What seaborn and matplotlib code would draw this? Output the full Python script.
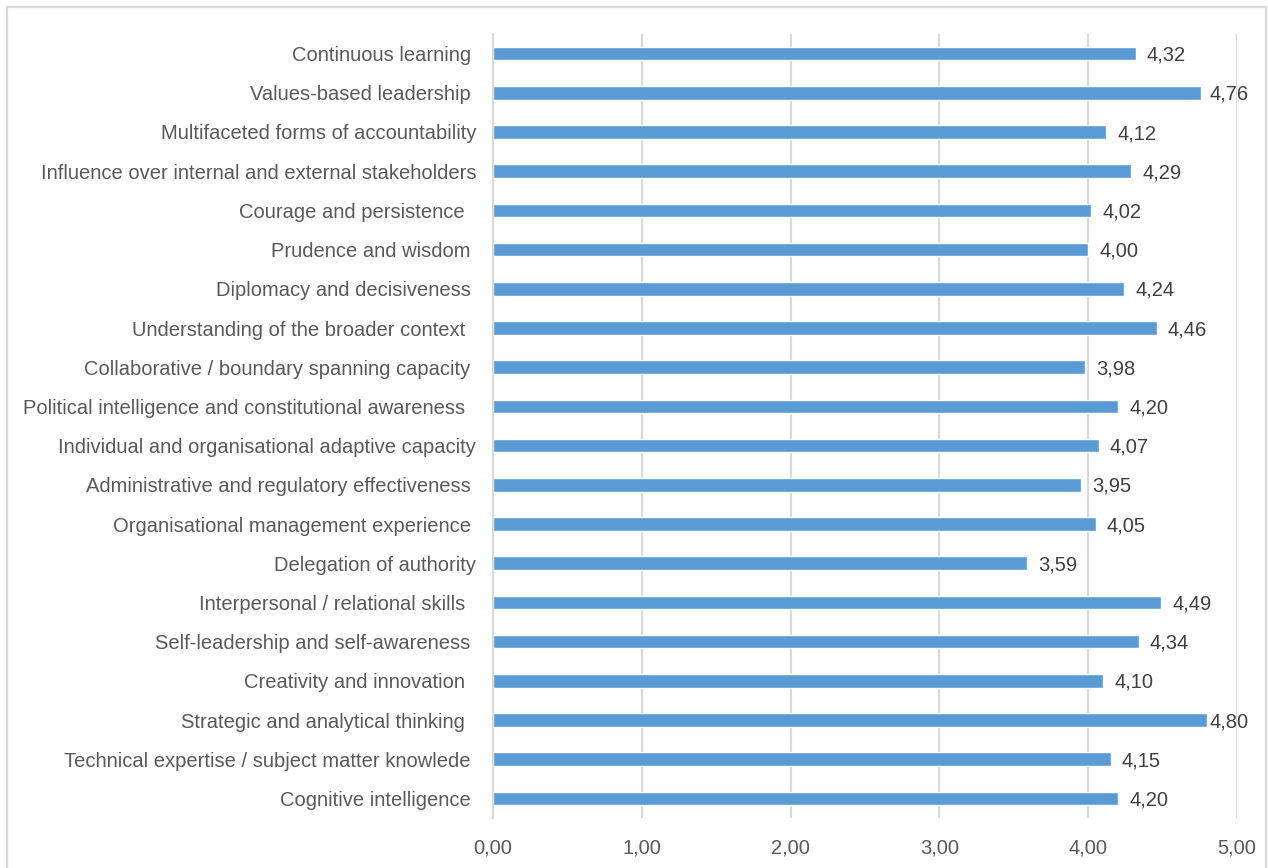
import matplotlib
matplotlib.use("Agg")
import matplotlib.pyplot as plt
from matplotlib.patches import Rectangle
import seaborn as sns
import pandas as pd

competencies = [
    "Continuous learning ",
    "Values-based leadership ",
    "Multifaceted forms of accountability",
    "Influence over internal and external stakeholders",
    "Courage and persistence  ",
    "Prudence and wisdom ",
    "Diplomacy and decisiveness ",
    "Understanding of the broader context  ",
    "Collaborative / boundary spanning capacity ",
    "Political intelligence and constitutional awareness  ",
    "Individual and organisational adaptive capacity",
    "Administrative and regulatory effectiveness ",
    "Organisational management experience ",
    "Delegation of authority",
    "Interpersonal / relational skills  ",
    "Self-leadership and self-awareness ",
    "Creativity and innovation  ",
    "Strategic and analytical thinking  ",
    "Technical expertise / subject matter knowlede ",
    "Cognitive intelligence ",
]
scores = [4.32, 4.76, 4.12, 4.29, 4.02, 4.00, 4.24, 4.46, 3.98, 4.20,
          4.07, 3.95, 4.05, 3.59, 4.49, 4.34, 4.10, 4.80, 4.15, 4.20]
x_ticks = [0, 1, 2, 3, 4, 5]

df = pd.DataFrame({"competency": competencies, "score": scores})

sns.set_theme(style="white")
plt.rcParams["font.family"] = ["Liberation Sans", "DejaVu Sans"]

W, H = 1268, 868
fig = plt.figure(figsize=(W / 100, H / 100), dpi=100)
ax = fig.add_axes([493 / W, 1 - 818 / H, (1237 - 493) / W, (818 - 34) / H])

text_color = "#595959"
grid_color = "#d9d9d9"
fs = 14.5

sns.barplot(data=df, y="competency", x="score", orient="h",
            color="#5B9BD5", saturation=1, width=0.345, ax=ax)

ax.set_xlim(0, 5)
ax.set_ylim(len(competencies) - 0.5, -0.5)
ax.set_xticks(x_ticks)
ax.set_xticklabels([f"{t:.2f}".replace(".", ",") for t in x_ticks])
ax.set_xlabel("")
ax.set_ylabel("")

ax.set_axisbelow(True)
ax.xaxis.grid(True, color=grid_color, linewidth=1.5)
ax.yaxis.grid(False)

for side in ("top", "right", "bottom"):
    ax.spines[side].set_visible(False)
ax.spines["left"].set_color(grid_color)
ax.spines["left"].set_linewidth(1.5)

ax.tick_params(axis="x", length=0, pad=15, labelsize=fs, labelcolor=text_color)
ax.tick_params(axis="y", length=0, pad=12, labelsize=fs, labelcolor=text_color)

for i, v in enumerate(scores):
    ax.text(min(v + 0.075, 4.815), i + 0.04, f"{v:.2f}".replace(".", ","),
            va="center", ha="left", fontsize=fs, color="#404040")

# light chart-area frame
fig.patches.append(Rectangle((7 / W, -0.01), (1266 - 7) / W, 1 - 7 / H + 0.01,
                             transform=fig.transFigure, fill=False,
                             edgecolor=grid_color, linewidth=1.6))

fig.savefig("out.png", dpi=100)
